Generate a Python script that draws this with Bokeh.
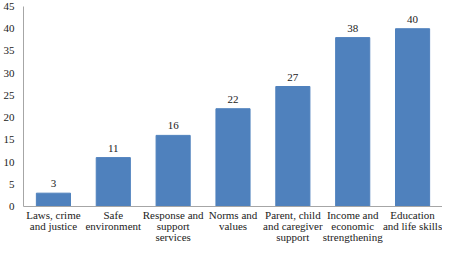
from bokeh.plotting import figure
from bokeh.models import ColumnDataSource, FactorRange, LabelSet, SingleIntervalTicker
from bokeh.embed import file_html
from bokeh.resources import INLINE

categories = [
    "Laws, crime\nand justice",
    "Safe\nenvironment",
    "Response and\nsupport\nservices",
    "Norms and\nvalues",
    "Parent, child\nand caregiver\nsupport",
    "Income and\neconomic\nstrengthening",
    "Education\nand life skills",
]
values = [3, 11, 16, 22, 27, 38, 40]
value_labels = [str(v) for v in values]

FONT = "Liberation Serif"

src = ColumnDataSource(dict(cat=categories, val=values, lab=value_labels))

p = figure(
    x_range=FactorRange(*categories, range_padding=0),
    y_range=(0, 45),
    width=442, height=246,
    output_backend="svg", toolbar_location=None,
    min_border_left=0, min_border_right=0, min_border_top=6, min_border_bottom=0,
)
p.vbar(x="cat", top="val", width=0.57, source=src, fill_color="#4F81BD", line_color="#4F81BD")
p.add_layout(LabelSet(x="cat", y="val", text="lab", source=src, y_offset=6,
                      text_align="center", text_baseline="bottom",
                      text_font=FONT, text_font_size="11px", text_color="#222222"))

p.grid.visible = False
p.outline_line_color = None
p.background_fill_color = "white"

p.yaxis.ticker = SingleIntervalTicker(interval=5)
for ax in (p.xaxis[0], p.yaxis[0]):
    ax.axis_line_color = "#A6A6A6"
    ax.major_tick_line_color = None
    ax.minor_tick_line_color = None
    ax.major_tick_out = 0
    ax.major_tick_in = 0
    ax.major_label_text_font = FONT
    ax.major_label_text_font_size = "11px"
    ax.major_label_text_color = "#222222"
p.xaxis.major_label_standoff = 2
p.yaxis.major_label_standoff = 5
p.xaxis.major_label_text_line_height = 0.95

open("out.html", "w").write(file_html(p, INLINE))
